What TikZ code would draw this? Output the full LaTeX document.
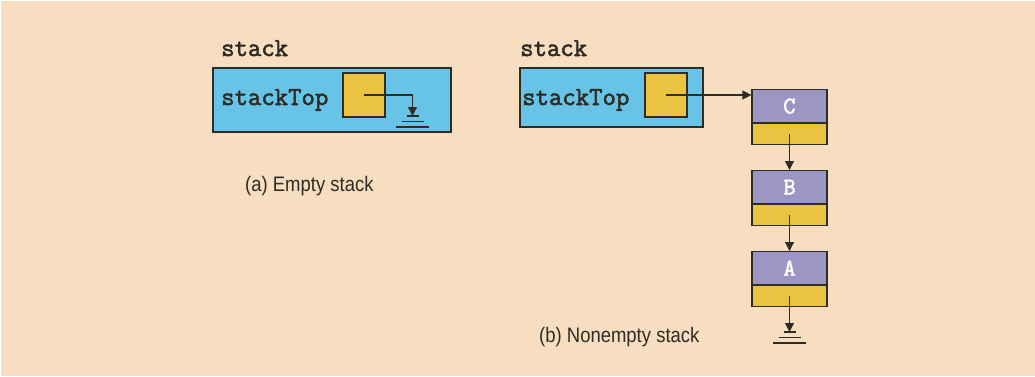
\documentclass[tikz,border=0pt]{standalone}
\usepackage{fontspec}
\newfontfamily\capfont[FakeStretch=0.88]{Liberation Sans}
\newfontfamily\codefont[FakeBold=2.2]{Latin Modern Mono}
\usetikzlibrary{arrows.meta,positioning}
\definecolor{cPeach}{HTML}{F7DEC0}
\definecolor{cSky}{HTML}{68C4E6}
\definecolor{cGold}{HTML}{EAC440}
\definecolor{cLilac}{HTML}{9B96C4}
\definecolor{cInk}{HTML}{2E2C24}

\begin{document}
\begin{tikzpicture}[x=1pt, y=-1pt, >={Triangle[length=9pt,width=9pt]},
    code/.style={font=\codefont\fontsize{26}{29}\selectfont, text=cInk, inner sep=0pt},
    caption/.style={font=\capfont\fontsize{21}{24}\selectfont, text=cInk, inner sep=0pt},
    frame/.style={draw=cInk, line width=1.2pt, inner sep=0pt},
    holder/.style={frame, fill=cSky},
    cell/.style={frame, fill=cGold, minimum width=42pt, minimum height=44pt},
    info/.style={frame, fill=cLilac, minimum width=75pt, minimum height=33pt,
      font=\codefont\fontsize{24}{27}\selectfont, text=white},
    link/.style={frame, fill=cGold, minimum width=75pt, minimum height=21pt},
    wire/.style={->, draw=cInk, line width=1.1pt}]
  \useasboundingbox (0,0) rectangle (1035,376);
  \fill[cPeach] (1,1) rectangle (1035,376);

  % (a) empty stack
  \node[code, anchor=base west] (nameA) at (221,56) {stack};
  \node[holder, minimum width=238pt, minimum height=64pt] (boxA) at (332,100) {};
  \node[code, anchor=base west] (fieldA) at (221,105) {stackTop};
  \node[cell] (topA) at (364,95) {};
  \coordinate (gndA) at (412.5,116);
  \draw[wire] (topA.center) -| (gndA);
  \foreach \d/\w in {0/6, 5.5/11, 11/16.5}
    \draw[cInk, line width=1.1pt] ([xshift=-\w pt, yshift=-\d pt]gndA) -- ([xshift=\w pt, yshift=-\d pt]gndA);
  \node[caption, anchor=base west] (capA) at (245,191) {(a) Empty stack};

  % (b) nonempty stack
  \node[code, anchor=base west] (nameB) at (520,56) {stack};
  \node[holder, minimum width=183pt, minimum height=59pt] (boxB) at (611.5,97.5) {};
  \node[code, anchor=base west] (fieldB) at (522,105) {stackTop};
  \node[cell] (topB) at (666,95) {};

  \node[info, anchor=north] (infoC) at (789.5,89) {C};
  \node[link, below=0pt of infoC] (linkC) {};
  \node[info, anchor=north] (infoB) at (789.5,170) {B};
  \node[link, below=0pt of infoB] (linkB) {};
  \node[info, anchor=north] (infoA) at (789.5,251) {A};
  \node[link, below=0pt of infoA] (linkA) {};
  \coordinate (gndB) at (789.5,332);

  \draw[wire] (topB.center) -- (infoC.west |- topB.center);
  \draw[wire] (linkC.center) -- (infoB.north);
  \draw[wire] (linkB.center) -- (infoA.north);
  \draw[wire] (linkA.center) -- (gndB);
  \foreach \d/\w in {0/6, 5.5/11, 11/16.5}
    \draw[cInk, line width=1.1pt] ([xshift=-\w pt, yshift=-\d pt]gndB) -- ([xshift=\w pt, yshift=-\d pt]gndB);
  \node[caption, anchor=base west] (capB) at (539,342) {(b) Nonempty stack};
\end{tikzpicture}
\end{document}
